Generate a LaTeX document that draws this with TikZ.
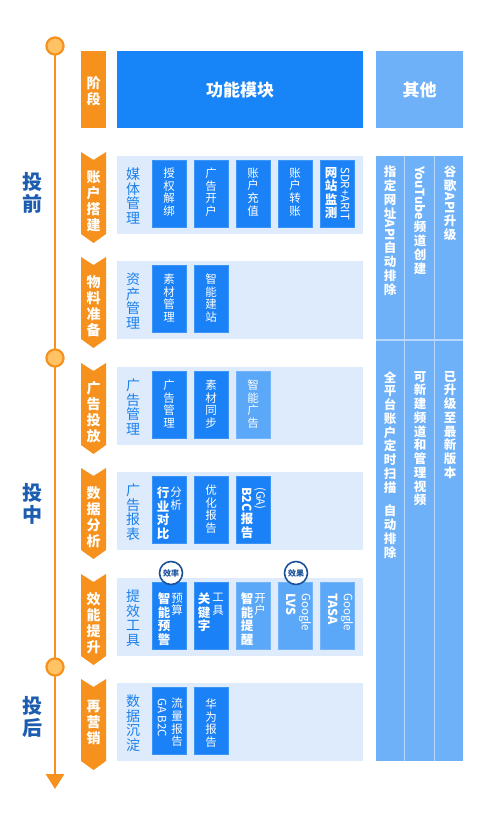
\documentclass[tikz,border=0pt]{standalone}
\usepackage{fontspec}
\setmainfont{Noto Sans CJK SC}
\usepackage{graphicx}
\usetikzlibrary{arrows.meta}
\definecolor{orng}{HTML}{F7911E}
\definecolor{circfill}{HTML}{FFC264}
\definecolor{hdrblue}{HTML}{1784F7}
\definecolor{dkbox}{HTML}{1A81F6}
\definecolor{ltbox}{HTML}{5CA8F8}
\definecolor{rowbg}{HTML}{DDEBFC}
\definecolor{otherbg}{HTML}{6EB1F9}
\definecolor{divider}{HTML}{B8D7FC}
\definecolor{catblue}{HTML}{1C80EA}
\definecolor{stageblue}{HTML}{1C5DAF}
\definecolor{badgeblue}{HTML}{1B5199}
\newcommand\rt[1]{\rotatebox[origin=c]{-90}{#1}}
\tikzset{
  chev/.style={fill=orng, draw=none},
  rowbox/.style={fill=rowbg, draw=none, anchor=north west, minimum width=246pt, minimum height=78pt, inner sep=0pt},
  ibox/.style={fill=dkbox, draw=dkbox!85!white, line width=0.6pt, anchor=north west, minimum width=34pt, minimum height=67pt, inner sep=0pt},
  lbox/.style={ibox, fill=ltbox, draw=ltbox!85!white},
  vt/.style={align=center, inner sep=0pt, text=white, font=\fontsize{11.5}{12.6}\selectfont},
  vtb/.style={align=center, inner sep=0pt, text=white, font=\bfseries\fontsize{12.5}{13.5}\selectfont},
  cat/.style={align=center, inner sep=0pt, text=catblue, font=\fontsize{14}{14.6}\selectfont},
  chevtxt/.style={align=center, inner sep=0pt, text=white, font=\bfseries\fontsize{14}{16}\selectfont},
  stage/.style={align=center, inner sep=0pt, text=stageblue, font=\bfseries\fontsize{20}{21.5}\selectfont},
  othertxt/.style={align=center, inner sep=0pt, text=white, anchor=north, font=\bfseries\fontsize{12.5}{13.75}\selectfont},
  dot/.style={circle, fill=circfill, draw=orng, line width=2pt, minimum size=17pt, inner sep=0pt},
  badge/.style={circle, fill=white, draw=badgeblue, line width=1.6pt, minimum size=23pt, inner sep=0pt, text=badgeblue, font=\bfseries\fontsize{8}{9}\selectfont},
  rotl/.style={rotate=-90, anchor=west},
}
\begin{document}
\begin{tikzpicture}[x=1pt,y=-1pt]
\useasboundingbox (0,0) rectangle (500,820);
\fill[white] (0,0) rectangle (500,820);

% timeline
\coordinate (tend) at (55,789);
\node[dot] (c1) at (55,46) {};
\node[dot] (c2) at (55,358) {};
\node[dot] (c3) at (55,667) {};
\draw[orng, line width=2.8pt, -{Triangle[width=18pt,length=15pt]}] (c1.center) -- (tend);
\node[dot] (c1b) at (55,46) {};
\node[dot] (c2b) at (55,358) {};
\node[dot] (c3b) at (55,667) {};

\node[stage] (s1) at (33,193) {投\\前};
\node[stage] (s2) at (33,504) {投\\中};
\node[stage] (s3) at (33,717) {投\\后};

% header
\fill[orng] (81,51) rectangle (106,128);
\node[chevtxt] (h1) at (93.5,91) {阶\\段};
\node[fill=hdrblue, minimum width=246pt, minimum height=77pt, anchor=north west, inner sep=0pt, text=white, font=\bfseries\fontsize{17}{20}\selectfont] (h2) at (117,51) {功能模块};
\node[fill=otherbg, minimum width=87pt, minimum height=77pt, anchor=north west, inner sep=0pt, text=white, font=\bfseries\fontsize{17}{20}\selectfont] (h3) at (376,51) {其他};

% chevrons
\foreach \t in {156,261,367,472,578,683}{
  \fill[orng] (81,\t-4) -- (93.5,\t+4) -- (106,\t-4) -- (106,\t+78) -- (93.5,\t+87) -- (81,\t+78) -- cycle;
}
\node[chevtxt] (k1) at (93.5,201) {账\\户\\搭\\建};
\node[chevtxt] (k2) at (93.5,306) {物\\料\\准\\备};
\node[chevtxt] (k3) at (93.5,412) {广\\告\\投\\放};
\node[chevtxt] (k4) at (93.5,517) {数\\据\\分\\析};
\node[chevtxt] (k5) at (93.5,623) {效\\能\\提\\升};
\node[chevtxt] (k6) at (93.5,723) {再\\营\\销};

% row backgrounds
\node[rowbox] (r1) at (117,156) {};
\node[rowbox] (r2) at (117,261) {};
\node[rowbox] (r3) at (117,367) {};
\node[rowbox] (r4) at (117,472) {};
\node[rowbox] (r5) at (117,578) {};
\node[rowbox] (r6) at (117,683) {};

% category labels
\node[cat] (g1) at (133,196) {媒\\体\\管\\理};
\node[cat] (g2) at (133,301) {资\\产\\管\\理};
\node[cat] (g3) at (133,407) {广\\告\\管\\理};
\node[cat] (g4) at (133,512) {广\\告\\报\\表};
\node[cat] (g5) at (133,618) {提\\效\\工\\具};
\node[cat] (g6) at (133,723) {数\\据\\沉\\淀};

% row 1
\node[ibox] (b11) at (152,160) {};
\node[ibox] (b12) at (194,160) {};
\node[ibox] (b13) at (236,160) {};
\node[ibox] (b14) at (278,160) {};
\node[ibox] (b15) at (320,160) {};
\node[vt] (t11) at (169,192) {授\\权\\解\\绑};
\node[vt] (t12) at (211,192) {广\\告\\开\\户};
\node[vt] (t13) at (253,192) {账\\户\\充\\值};
\node[vt] (t14) at (295,192) {账\\户\\转\\账};
\node[vtb, anchor=north] (t15a) at (331,167) {网\\站\\监\\测};
\node[vt, rotl] (t15b) at (345,167) {SDR+ARIT};

% row 2
\node[ibox] (b21) at (152,265) {};
\node[ibox] (b22) at (194,265) {};
\node[vt] (t21) at (169,298) {素\\材\\管\\理};
\node[vt] (t22) at (211,298) {智\\能\\建\\站};

% row 3
\node[ibox] (b31) at (152,371) {};
\node[ibox] (b32) at (194,371) {};
\node[lbox] (b33) at (236,371) {};
\node[vt] (t31) at (169,404) {广\\告\\管\\理};
\node[vt] (t32) at (211,404) {素\\材\\同\\步};
\node[vt] (t33) at (253,404) {智\\能\\广\\告};

% row 4
\node[ibox] (b41) at (152,476) {};
\node[ibox] (b42) at (194,476) {};
\node[ibox] (b43) at (236,476) {};
\node[vtb, anchor=north] (t41a) at (163,487) {行\\业\\对\\比};
\node[vt, anchor=north] (t41b) at (176,487) {分\\析};
\node[vt] (t42) at (211,509) {优\\化\\报\\告};
\node[vtb, anchor=north] (t43a) at (247,487) {\rt{B2C}\\报\\告};
\node[vt, rotl] (t43b) at (260,487) {(GA)};

% row 5
\node[ibox] (b51) at (152,582) {};
\node[ibox] (b52) at (194,582) {};
\node[lbox] (b53) at (236,582) {};
\node[lbox] (b54) at (278,582) {};
\node[lbox] (b55) at (320,582) {};
\node[vtb, anchor=north] (t51a) at (164,593) {智\\能\\预\\警};
\node[vt, anchor=north] (t51b) at (177,593) {预\\算};
\node[vtb, anchor=north] (t52a) at (204,593) {关\\键\\字};
\node[vt, anchor=north] (t52b) at (218,593) {工\\具};
\node[vtb, anchor=north] (t53a) at (247,593) {智\\能\\提\\醒};
\node[vt, anchor=north] (t53b) at (260,593) {开\\户};
\node[vtb, rotl] (t54a) at (291,593) {LVS};
\node[vt, rotl] (t54b) at (305,593) {Google};
\node[vtb, rotl] (t55a) at (333,593) {TASA};
\node[vt, rotl] (t55b) at (347,593) {Google};
\node[badge] (e1) at (171,573) {效率};
\node[badge] (e2) at (296,573) {效果};

% row 6
\node[ibox] (b61) at (152,687) {};
\node[ibox] (b62) at (194,687) {};
\node[vt, anchor=north] (t61a) at (177,698) {流\\量\\报\\告};
\node[vt, rotl] (t61b) at (162,698) {GA B2C};
\node[vt] (t62) at (211,723) {华\\为\\报\\告};

% other column
\fill[otherbg] (376,156) rectangle (463,761);
\coordinate (dv1t) at (404.5,156);
\coordinate (dv1b) at (404.5,761);
\coordinate (dv2t) at (434.5,156);
\coordinate (dv2b) at (434.5,761);
\coordinate (dhl) at (376,340);
\coordinate (dhr) at (463,340);
\draw[divider, line width=1.6pt] (dv1t) -- (dv1b);
\draw[divider, line width=1.6pt] (dv2t) -- (dv2b);
\draw[divider, line width=1.6pt] (dhl) -- (dhr);
\node[othertxt] (o1) at (390,166) {指\\定\\网\\址\\\rt{API}\\自\\动\\排\\除};
\node[othertxt] (o2) at (420,166) {\rt{YouTube}\\频\\道\\创\\建};
\node[othertxt] (o3) at (450,166) {谷\\歌\\\rt{API}\\升\\级};
\node[othertxt] (o4) at (390,371) {全\\平\\台\\账\\户\\定\\时\\扫\\描\\[10pt]自\\动\\排\\除};
\node[othertxt] (o5) at (420,371) {可\\新\\建\\频\\道\\和\\管\\理\\视\\频};
\node[othertxt] (o6) at (450,371) {已\\升\\级\\至\\最\\新\\版\\本};
\end{tikzpicture}
\end{document}
